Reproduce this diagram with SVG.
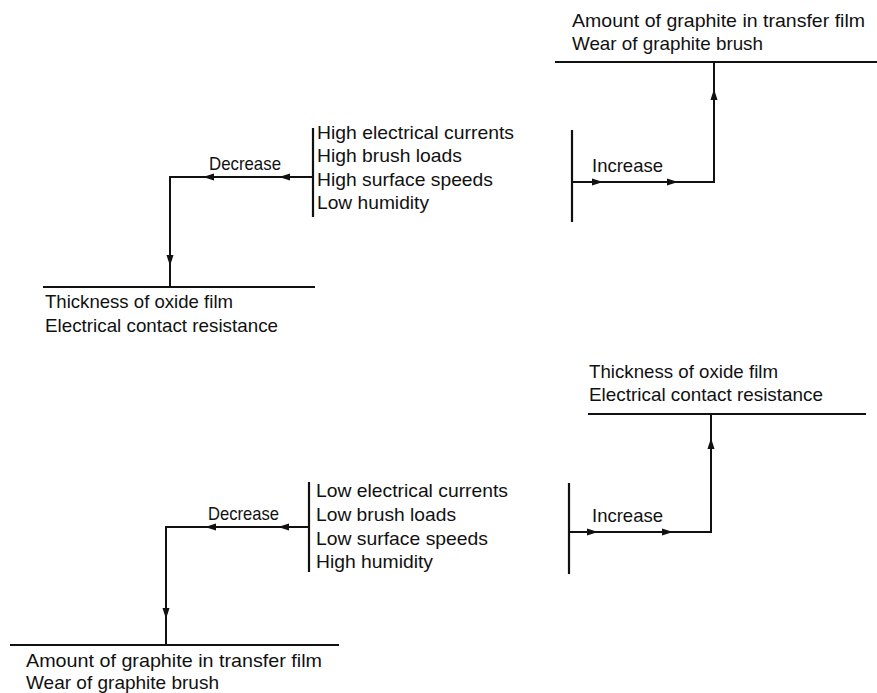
<svg xmlns="http://www.w3.org/2000/svg" xmlns:xlink="http://www.w3.org/1999/xlink" width="877" height="693" viewBox="0 0 877 693">
<style>
.t{font-family:"Liberation Sans",Arial,sans-serif;font-size:19px;fill:#111}
.ln{stroke:#111;stroke-width:2;fill:none}
.bar{stroke:#111;stroke-width:2.2;fill:none}
</style>
<defs>
<path id="ah" d="M0,0 L-11,-3.5 L-11,3.5 Z" fill="#111"/>
</defs>
<rect width="877" height="693" fill="#fff"/>

<g id="conditions-high">
<line class="bar" x1="313" y1="128" x2="313" y2="217"/>
<text class="t" x="317" y="139" textLength="197" lengthAdjust="spacingAndGlyphs">High electrical currents</text>
<text class="t" x="317" y="162" textLength="145" lengthAdjust="spacingAndGlyphs">High brush loads</text>
<text class="t" x="317" y="186" textLength="176" lengthAdjust="spacingAndGlyphs">High surface speeds</text>
<text class="t" x="317" y="209" textLength="112" lengthAdjust="spacingAndGlyphs">Low humidity</text>
</g>

<g id="oxide-top">
<line class="ln" x1="43" y1="287" x2="315" y2="287"/>
<text class="t" x="45" y="308" textLength="188" lengthAdjust="spacingAndGlyphs">Thickness of oxide film</text>
<text class="t" x="45" y="332" textLength="233" lengthAdjust="spacingAndGlyphs">Electrical contact resistance</text>
</g>

<g id="graphite-top">
<line class="ln" x1="555" y1="62" x2="877" y2="62"/>
<text class="t" x="572" y="27" textLength="293" lengthAdjust="spacingAndGlyphs">Amount of graphite in transfer film</text>
<text class="t" x="572" y="50" textLength="191" lengthAdjust="spacingAndGlyphs">Wear of graphite brush</text>
</g>

<g id="source-top-right">
<line class="bar" x1="572" y1="130" x2="572" y2="222"/>
</g>

<g id="conditions-low">
<line class="bar" x1="309" y1="482" x2="309" y2="572"/>
<text class="t" x="316" y="497" textLength="192" lengthAdjust="spacingAndGlyphs">Low electrical currents</text>
<text class="t" x="316" y="521" textLength="140" lengthAdjust="spacingAndGlyphs">Low brush loads</text>
<text class="t" x="316" y="545" textLength="172" lengthAdjust="spacingAndGlyphs">Low surface speeds</text>
<text class="t" x="316" y="568" textLength="117" lengthAdjust="spacingAndGlyphs">High humidity</text>
</g>

<g id="graphite-bottom">
<line class="ln" x1="10" y1="645" x2="339" y2="645"/>
<text class="t" x="26" y="667" textLength="296" lengthAdjust="spacingAndGlyphs">Amount of graphite in transfer film</text>
<text class="t" x="26" y="689" textLength="193" lengthAdjust="spacingAndGlyphs">Wear of graphite brush</text>
</g>

<g id="oxide-bottom">
<line class="ln" x1="588" y1="414" x2="866" y2="414"/>
<text class="t" x="589" y="378" textLength="189" lengthAdjust="spacingAndGlyphs">Thickness of oxide film</text>
<text class="t" x="589" y="401" textLength="234" lengthAdjust="spacingAndGlyphs">Electrical contact resistance</text>
</g>

<g id="source-bottom-right">
<line class="bar" x1="569" y1="483" x2="569" y2="574"/>
</g>

<g id="connectors">
<polyline class="ln" points="313,177 170,177 170,287"/>
<use xlink:href="#ah" transform="translate(203,177) rotate(180)"/>
<use xlink:href="#ah" transform="translate(279,177) rotate(180)"/>
<use xlink:href="#ah" transform="translate(170,266) rotate(90)"/>
<text class="t" x="209" y="170" textLength="72" lengthAdjust="spacingAndGlyphs">Decrease</text>

<polyline class="ln" points="572,182 714,182 714,62"/>
<use xlink:href="#ah" transform="translate(603,182)"/>
<use xlink:href="#ah" transform="translate(678,182)"/>
<use xlink:href="#ah" transform="translate(714,89) rotate(-90)"/>
<text class="t" x="592" y="172" textLength="71" lengthAdjust="spacingAndGlyphs">Increase</text>

<polyline class="ln" points="309,527 166,527 166,645"/>
<use xlink:href="#ah" transform="translate(205,527) rotate(180)"/>
<use xlink:href="#ah" transform="translate(278,527) rotate(180)"/>
<use xlink:href="#ah" transform="translate(166,619) rotate(90)"/>
<text class="t" x="208" y="520" textLength="71" lengthAdjust="spacingAndGlyphs">Decrease</text>

<polyline class="ln" points="569,532 711,532 711,414"/>
<use xlink:href="#ah" transform="translate(598,532)"/>
<use xlink:href="#ah" transform="translate(673,532)"/>
<use xlink:href="#ah" transform="translate(711,438) rotate(-90)"/>
<text class="t" x="592" y="522" textLength="71" lengthAdjust="spacingAndGlyphs">Increase</text>
</g>
</svg>
